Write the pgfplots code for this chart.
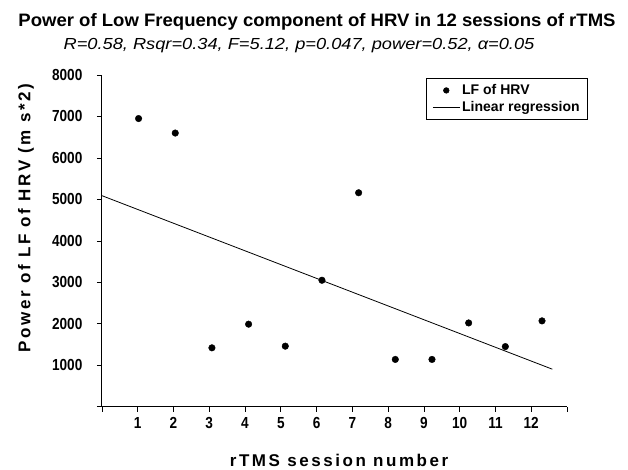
\documentclass[border=0pt]{standalone}
\usepackage{pgfplots}
\pgfplotsset{compat=1.18}
\usepackage{fontspec}
\setmainfont{Liberation Sans}
\newfontfamily\spaced[LetterSpace=15]{Liberation Sans}
\newfontfamily\narrow[FakeStretch=0.85]{Liberation Sans}
\newfontfamily\wide[FakeStretch=1.14]{Liberation Sans}
\newfontfamily\titlefont[FakeStretch=1.03]{Liberation Sans}

\begin{document}
\begin{tikzpicture}[x=1pt,y=1pt]
\useasboundingbox (0,0) rectangle (628,470);
\node[font=\fontsize{18}{20}\selectfont\titlefont\bfseries] at (317,448) {Power of Low Frequency component of HRV in 12 sessions of rTMS};
\node[font=\fontsize{16}{18}\selectfont\wide\itshape] at (299,424) {R=0.58, Rsqr=0.34, F=5.12, p=0.047, power=0.52, α=0.05};
\begin{axis}[
  at={(101.9pt,63.3pt)}, anchor=south west,
  scale only axis, width=465.1pt, height=331.7pt,
  xmin=0, xmax=12.6815, ymin=0, ymax=8000,
  axis lines*=left,
  axis line style={black, line width=0.9pt},
  xtick={0,0.9755,1.951,2.9265,3.902,4.8775,5.853,6.8285,7.804,8.7795,9.755,10.7305,11.706,12.6815},
  xticklabels={,1,2,3,4,5,6,7,8,9,10,11,12,},
  ytick={0,1000,2000,3000,4000,5000,6000,7000,8000},
  yticklabels={,1000,2000,3000,4000,5000,6000,7000,8000},
  tick align=outside, major tick length=5pt,
  tick style={black, line width=0.7pt},
  ticklabel style={font=\fontsize{16}{18}\selectfont\narrow\bfseries},
  xticklabel style={yshift=-2pt},
  yticklabel style={xshift=-11pt},
  xlabel={rTMS session number},
  ylabel={Power of LF of HRV (m s*2)},
  xlabel style={font=\fontsize{17}{19}\selectfont\spaced\bfseries, at={(axis description cs:0.51,-0.162)}, anchor=center},
  ylabel style={font=\fontsize{17}{19}\selectfont\spaced\bfseries, at={(axis description cs:-0.163,0.569)}, anchor=center},
  legend style={at={(rel axis cs:0.697,0.99)}, anchor=north west, draw=black, line width=0.6pt,
    font=\fontsize{14}{16}\selectfont\bfseries, inner xsep=6pt, inner ysep=4pt, row sep=1pt},
  legend cell align=left,
  clip=false,
]
\addplot[only marks, mark=*, mark size=3.3pt, black,
  legend image code/.code={\draw[black, fill=black] (13.5pt,0) circle (2.8pt);}]
  coordinates {(1,6950) (2,6600) (3,1420) (4,1990) (5,1460) (6,3050)
               (7,5160) (8,1140) (9,1140) (10,2020) (11,1450) (12,2070)};
\addlegendentry{LF of HRV}
\addplot[black, line width=0.8pt, no marks,
  legend image code/.code={\draw[black, line width=0.8pt] (0pt,0) -- (27pt,0);}]
  coordinates {(0,5090) (12.28,905)};
\addlegendentry{Linear regression}
\end{axis}
\end{tikzpicture}
\end{document}
